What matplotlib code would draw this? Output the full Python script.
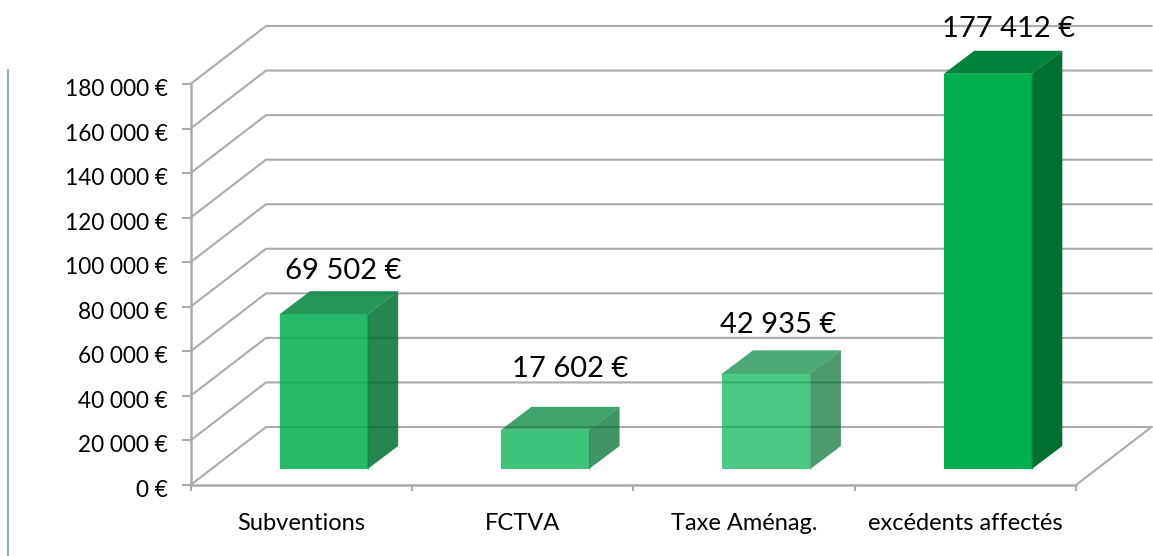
import matplotlib
matplotlib.use('Agg')
import matplotlib.pyplot as plt
from matplotlib.patches import Polygon
from matplotlib.ticker import FuncFormatter
from matplotlib.transforms import ScaledTranslation

plt.rcParams['font.family'] = ['Lato', 'DejaVu Sans']

# data
categories = ['Subventions', 'FCTVA', 'Taxe Aménag.', 'excédents affectés']
values = [69502, 17602, 42935, 177412]
value_labels = ['69 502 €', '17 602 €', '42 935 €', '177 412 €']
y_ticks = list(range(0, 200000, 20000))

# styling
bar_alpha = [0.85, 0.75, 0.7, 1.0]
label_x_shift = [4.5, 10, -3.5, 5]   # px, from the centre of the bar top
label_y_shift = [43, 61, 48, 45]     # px, above the bar top
W, H = 1153, 556
grid_col = '#ababab'

fig = plt.figure(figsize=(W / 100, H / 100), dpi=100)
# plot area in pixels: x 190-1076, y 84-485
ax = fig.add_axes([190.5 / W, (H - 485) / H, (1076 - 190.5) / W, (485 - 84) / H])
ax.set_xlim(0, 4)
ax.set_ylim(0, 180000)

# pixel sizes converted to data units
px_x = 4 / (1076 - 190.5)
px_y = 180000 / (485 - 84)
depth_x = 75.5 * px_x
depth_y = 58 * px_y
bar_w = 88 * px_x
bar_dx = 30.5 * px_x
bar_dy = 23 * px_y
start_x = 22.5 * px_x
start_y = 16 * px_y

# walls
for t in y_ticks:
    ax.plot([0, depth_x, 4 + depth_x], [t, t + depth_y, t + depth_y],
            color=grid_col, lw=1.5, clip_on=False, zorder=1)
ax.plot([4, 4 + depth_x], [0, depth_y], color=grid_col, lw=1.5, clip_on=False, zorder=1)

# bars
for i, v in enumerate(values):
    x0 = i + 0.5 - bar_w / 2 + start_x
    x1 = x0 + bar_w
    y0 = start_y
    y1 = v + start_y
    a = bar_alpha[i]
    ax.add_patch(Polygon([(x0, y0), (x1, y0), (x1, y1), (x0, y1)], closed=True,
                         fc='#00b050', ec='none', alpha=a, clip_on=False, zorder=3,
                         antialiased=False))
    ax.add_patch(Polygon([(x0, y1), (x1, y1), (x1 + bar_dx, y1 + bar_dy), (x0 + bar_dx, y1 + bar_dy)],
                         closed=True, fc='#00843b', ec='none', alpha=a, clip_on=False, zorder=3))
    ax.add_patch(Polygon([(x1, y0), (x1 + bar_dx, y0 + bar_dy), (x1 + bar_dx, y1 + bar_dy), (x1, y1)],
                         closed=True, fc='#007031', ec='none', alpha=a, clip_on=False, zorder=3))
    # hide the light seam between front and side
    ax.plot([x1, x1], [y0, y1], color='#00903f', lw=0.8, alpha=a * 0.6, clip_on=False, zorder=3)
    ax.text((x0 + x1 + bar_dx) / 2 + label_x_shift[i] * px_x, y1 + label_y_shift[i] * px_y,
            value_labels[i], ha='center', va='center', fontsize=21, color='black',
            clip_on=False, zorder=5)

# axes
for s in ['top', 'right']:
    ax.spines[s].set_visible(False)
for s in ['left', 'bottom']:
    ax.spines[s].set_color(grid_col)
    ax.spines[s].set_linewidth(1.8)
    ax.spines[s].set_zorder(2)

ax.set_yticks(y_ticks)
ax.yaxis.set_major_formatter(FuncFormatter(lambda v, p: f'{int(v):,} €'.replace(',', ' ')))
ax.tick_params(axis='y', length=6.5, width=1.5, color=grid_col, labelsize=16.3, pad=10)
# labels sit a little lower than their ticks
down = ScaledTranslation(0, -3.5 / 100, fig.dpi_scale_trans)
for lab in ax.get_yticklabels():
    lab.set_transform(lab.get_transform() + down)

ax.set_xticks(range(5))
ax.set_xticklabels([])
ax.set_xticks([i + 0.5 for i in range(4)], labels=categories, minor=True)
ax.tick_params(axis='x', which='major', length=4.5, width=1.5, color=grid_col)
ax.tick_params(axis='x', which='minor', length=0, labelsize=17, pad=20.5)

# thin rule on the left edge of the slide
fig.add_artist(plt.Line2D([7.5 / W, 7.5 / W], [0, (H - 70) / H], color='#8fb0b5', lw=1.6))

fig.savefig('out.png', dpi=100)
